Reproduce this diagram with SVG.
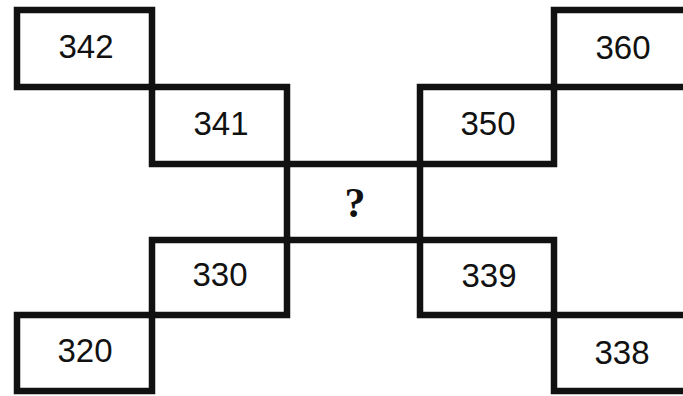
<svg xmlns="http://www.w3.org/2000/svg" width="683" height="396" viewBox="0 0 683 396">
<style>
.b{fill:none;stroke:#111;stroke-width:6.5;stroke-linejoin:miter}
.t{font-family:"Liberation Sans",Arial,sans-serif;font-size:33px;fill:#111;text-anchor:middle}
.q{font-family:"Liberation Serif","Times New Roman",serif;font-size:42px;font-weight:bold;fill:#111;text-anchor:middle}
</style>
<rect width="683" height="396" fill="#fff"/>
<g id="n342"><rect class="b" x="17" y="10" width="135" height="77"/><text class="t" x="86" y="58">342</text></g>
<g id="n341"><rect class="b" x="152" y="87" width="135" height="77"/><text class="t" x="221" y="135">341</text></g>
<g id="n350"><rect class="b" x="420" y="87" width="134" height="77"/><text class="t" x="488" y="135">350</text></g>
<g id="n360"><rect class="b" x="554" y="10" width="140" height="77"/><text class="t" x="623" y="59">360</text></g>
<g id="nq"><rect class="b" x="287" y="164" width="133" height="76"/><text class="q" x="355" y="217">?</text></g>
<g id="n330"><rect class="b" x="152" y="240" width="135" height="75"/><text class="t" x="220" y="286">330</text></g>
<g id="n339"><rect class="b" x="420" y="240" width="134" height="75"/><text class="t" x="489" y="287">339</text></g>
<g id="n320"><rect class="b" x="17" y="315" width="135" height="76"/><text class="t" x="85" y="362">320</text></g>
<g id="n338"><rect class="b" x="554" y="315" width="140" height="76"/><text class="t" x="622" y="364">338</text></g>
<g id="connectors"></g>
</svg>
